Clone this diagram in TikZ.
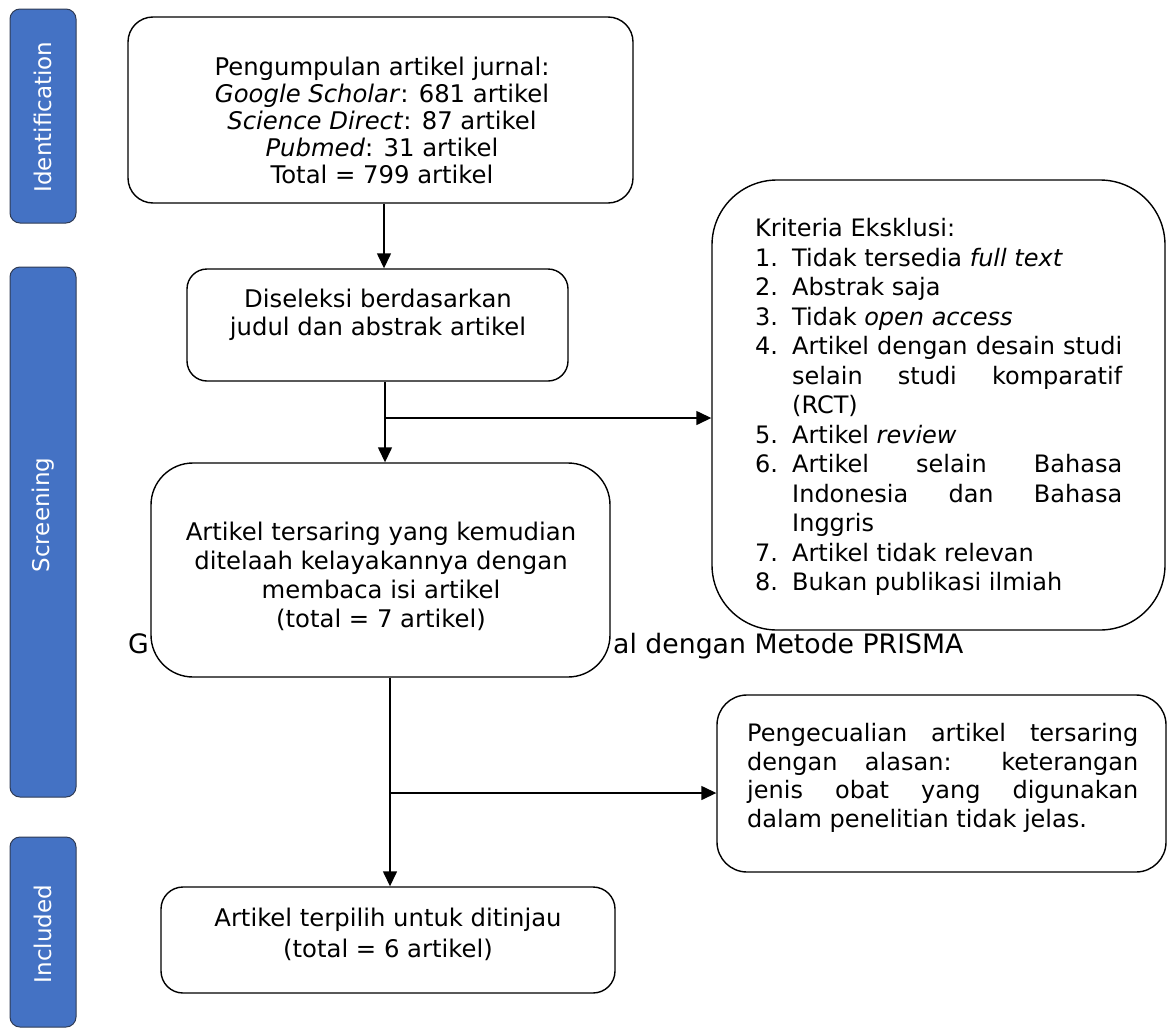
\documentclass[tikz,border=0pt]{standalone}
\usepackage{fontspec}
\setmainfont{DejaVu Sans}
\usetikzlibrary{arrows.meta}
\definecolor{barblue}{HTML}{4472C4}
\definecolor{baredge}{HTML}{2F3B55}
\tikzset{
  box/.style={draw=black, line width=1.4pt, fill=white, inner sep=0pt},
  bar/.style={draw=baredge, line width=1pt, fill=barblue, rounded corners=10pt, inner sep=0pt, minimum width=66pt},
  bartext/.style={rotate=90, text=white, font=\fontsize{23}{27}\selectfont, inner sep=0pt},
  txt/.style={inner sep=0pt, align=center},
  conn/.style={line width=1.4pt},
  arr/.style={line width=1.4pt, -{Triangle[length=15pt,width=14pt]}},
}
\begin{document}
\begin{tikzpicture}[x=1pt,y=-1pt]
\useasboundingbox (0,0) rectangle (1167,1028);
% side bars
\node[bar, minimum height=214pt] (s1) at (43,116) {};
\node[bar, minimum height=530pt] (s2) at (43,532) {};
\node[bar, minimum height=190pt] (s3) at (43,932) {};
\node[bartext] (s1t) at (43,117) {Identification};
\node[bartext] (s2t) at (43,515) {Screening};
\node[bartext] (s3t) at (43,934) {Included};
% caption partly hidden behind box 3
\node[inner sep=0pt, anchor=base west, font=\fontsize{26.7}{32}\selectfont] (capG) at (128,653) {G};
\node[inner sep=0pt, anchor=base west, font=\fontsize{26.7}{32}\selectfont] (capR) at (613,653) {al dengan Metode PRISMA};
% boxes
\node[box, rounded corners=25pt, minimum width=505pt, minimum height=186pt] (b1) at (380.5,110) {};
\node[box, rounded corners=20pt, minimum width=381pt, minimum height=112pt] (b2) at (377.5,325) {};
\node[box, rounded corners=42pt, minimum width=459pt, minimum height=214pt] (b3) at (380.5,570) {};
\node[box, rounded corners=65pt, minimum width=453pt, minimum height=450pt] (b4) at (938.5,405) {};
\node[box, rounded corners=22pt, minimum width=454pt, minimum height=106pt] (b5) at (388,940) {};
\node[box, rounded corners=30pt, minimum width=449pt, minimum height=177pt] (b6) at (941.5,783.5) {};
% texts
\node[txt, font=\fontsize{24.3}{27}\selectfont] (t1) at (382,120)
  {Pengumpulan artikel jurnal:\\\emph{Google Scholar}: 681 artikel\\\emph{Science Direct}: 87 artikel\\\emph{Pubmed}: 31 artikel\\Total = 799 artikel};
\node[txt, font=\fontsize{24.3}{28}\selectfont] (t2) at (378,315)
  {Diseleksi berdasarkan\\judul dan abstrak artikel};
\node[txt, font=\fontsize{24.3}{29}\selectfont] (t3) at (381,576)
  {Artikel tersaring yang kemudian\\ditelaah kelayakannya dengan\\membaca isi artikel\\(total = 7 artikel)};
\node[txt, font=\fontsize{24.3}{31}\selectfont] (t5) at (388,934)
  {Artikel terpilih untuk ditinjau\\(total = 6 artikel)};
\node[inner sep=0pt, anchor=north west, text width=367pt, align=justify, font=\fontsize{24}{29.5}\selectfont] (t4) at (755,218.5)
  {Kriteria Eksklusi:\par
   \hangindent=37pt\hangafter=1\noindent\makebox[37pt][l]{1.}Tidak tersedia \emph{full text}\par
   \hangindent=37pt\hangafter=1\noindent\makebox[37pt][l]{2.}Abstrak saja\par
   \hangindent=37pt\hangafter=1\noindent\makebox[37pt][l]{3.}Tidak \emph{open access}\par
   \hangindent=37pt\hangafter=1\noindent\makebox[37pt][l]{4.}Artikel dengan desain studi\linebreak selain studi komparatif\linebreak (RCT)\par
   \hangindent=37pt\hangafter=1\noindent\makebox[37pt][l]{5.}Artikel \emph{review}\par
   \hangindent=37pt\hangafter=1\noindent\makebox[37pt][l]{6.}Artikel selain Bahasa\linebreak Indonesia dan Bahasa\linebreak Inggris\par
   \hangindent=37pt\hangafter=1\noindent\makebox[37pt][l]{7.}Artikel tidak relevan\par
   \hangindent=37pt\hangafter=1\noindent\makebox[37pt][l]{8.}Bukan publikasi ilmiah\par};
\node[inner sep=0pt, anchor=north west, text width=391pt, align=justify, font=\fontsize{24}{28.5}\selectfont] (t6) at (747,723.5)
  {Pengecualian artikel tersaring\linebreak dengan alasan: keterangan\linebreak jenis obat yang digunakan\linebreak dalam penelitian tidak jelas.};
% connector columns and junctions
\coordinate (col1) at (384,0);
\coordinate (col2) at (385,0);
\coordinate (col3) at (390,0);
\coordinate (j1) at (385,418);
\coordinate (j2) at (390,793);
\draw[arr] (b1.south -| col1) -- (b2.north -| col1);
\draw[arr] (b2.south -| col2) -- (b3.north -| col2);
\draw[arr] (j1) -- (b4.west |- j1);
\draw[arr] (b3.south -| col3) -- (b5.north -| col3);
\draw[arr] (j2) -- (b6.west |- j2);
\end{tikzpicture}
\end{document}
